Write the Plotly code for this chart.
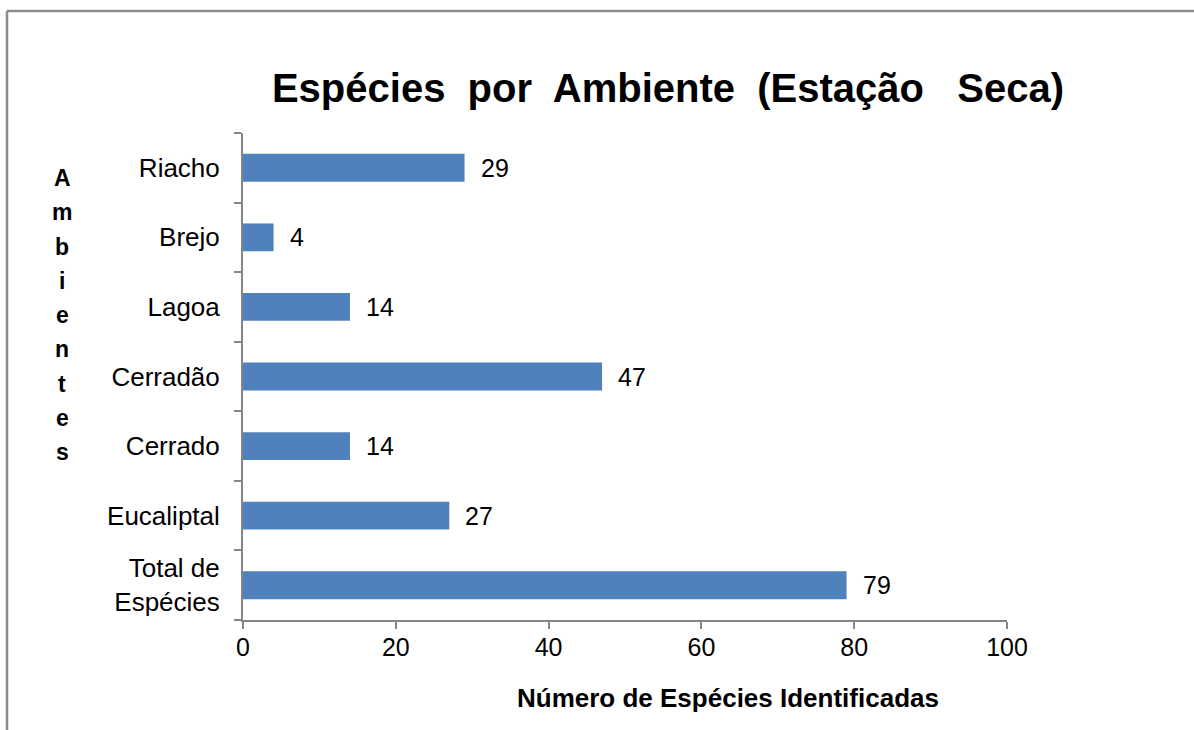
import plotly.graph_objects as go

# Species counts per environment (dry season)
ambientes = ["Riacho", "Brejo", "Lagoa", "Cerradão", "Cerrado", "Eucaliptal", "Total de<br>Espécies"]
especies = [29, 4, 14, 47, 14, 27, 79]
x_ticks = [0, 20, 40, 60, 80, 100]

W, H = 1194, 730
L, R, T, B = 243, 187, 133, 110
pw, ph = W - L - R, H - T - B

BAR = "#4F81BD"
AXIS = "#868686"
FONT = "Liberation Sans, Arial, sans-serif"

fig = go.Figure(
    go.Bar(
        x=especies,
        y=ambientes,
        orientation="h",
        marker=dict(color=BAR, line=dict(width=0)),
        width=0.4,
        hoverinfo="skip",
    )
)

# Value labels to the right of each bar
for cat, val in zip(ambientes, especies):
    fig.add_annotation(
        x=val, y=cat, xref="x", yref="y", text=str(val), showarrow=False,
        xanchor="left", yanchor="middle", xshift=14,
        font=dict(family=FONT, size=25, color="#000000"),
    )

# Vertical, letter-stacked y-axis title
word = "Ambientes"
for i, ch in enumerate(word):
    py = 178 + i * 34.25
    fig.add_annotation(
        x=(62 - L) / pw, y=1 - (py - T) / ph, xref="paper", yref="paper",
        text=f"<b>{ch}</b>", showarrow=False, xanchor="center", yanchor="middle",
        font=dict(family=FONT, size=23, color="#000000"),
    )

# x-axis title
fig.add_annotation(
    x=(728 - L) / pw, y=1 - (698 - T) / ph, xref="paper", yref="paper",
    text="<b>Número de Espécies Identificadas</b>", showarrow=False,
    xanchor="center", yanchor="middle",
    font=dict(family=FONT, size=26, color="#000000"),
)

# Partial chart-area frame (top and left edges)
fx = (7 - L) / pw
fy = 1 + (T - 11) / ph
fig.add_shape(type="line", xref="paper", yref="paper", x0=fx, x1=fx, y0=-1, y1=fy,
              line=dict(color="#8C8C8C", width=2.5))
fig.add_shape(type="line", xref="paper", yref="paper", x0=fx, x1=2, y0=fy, y1=fy,
              line=dict(color="#8C8C8C", width=2.5))

SP = "\u00a0 "
title_text = f"Espécies{SP}por{SP}Ambiente{SP}(Estação{SP}\u00a0Seca)"

fig.update_layout(
    width=W, height=H,
    margin=dict(l=L, r=R, t=T, b=B, pad=0),
    paper_bgcolor="white", plot_bgcolor="white",
    showlegend=False,
    title=dict(
        text=f"<b>{title_text}</b>",
        x=(668 - L) / pw, xref="paper", xanchor="center",
        y=1 - 88 / H, yref="container", yanchor="middle",
        font=dict(family=FONT, size=40, color="#000000"),
    ),
    font=dict(family=FONT, size=25, color="#000000"),
)

fig.update_xaxes(
    range=[0, 100], tickvals=x_ticks, ticktext=[str(v) for v in x_ticks],
    showgrid=False, zeroline=False,
    showline=True, linecolor=AXIS, linewidth=2,
    ticks="outside", ticklen=7, tickwidth=2, tickcolor=AXIS,
    tickfont=dict(family=FONT, size=25, color="#000000"),
    ticklabelstandoff=-3,
)
fig.update_yaxes(
    categoryorder="array", categoryarray=ambientes[::-1],
    range=[-0.5, len(ambientes) - 0.5],
    showgrid=False, zeroline=False,
    showline=True, linecolor=AXIS, linewidth=2,
    ticks="outside", ticklen=7, tickwidth=2, tickcolor=AXIS,
    tickson="boundaries",
    tickfont=dict(family=FONT, size=26, color="#000000"),
    ticklabelstandoff=16,
)

fig.write_html("out.html")
